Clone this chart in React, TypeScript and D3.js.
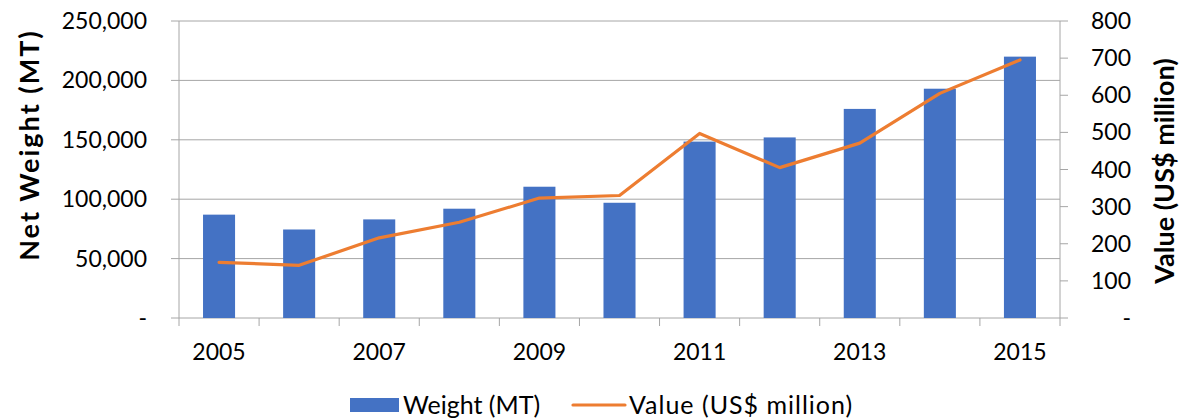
import React from "react";
import * as d3 from "d3";

const years = ["2005", "2006", "2007", "2008", "2009", "2010", "2011", "2012", "2013", "2014", "2015"];
const weightMT = [87000, 74500, 83000, 92000, 110500, 97000, 148500, 152000, 176000, 193000, 220000];
const valueUSD = [150, 142, 216, 258, 323, 330, 497, 405, 471, 605, 695];
const leftTicks = [0, 50000, 100000, 150000, 200000, 250000];
const rightTicks = [0, 100, 200, 300, 400, 500, 600, 700, 800];

const W = 1180;
const H = 420;
const margin = { top: 21, right: 120, bottom: 102, left: 179 };
const font = "Lato, 'Open Sans', sans-serif";

export default function App() {
  const innerW = W - margin.left - margin.right;
  const innerH = H - margin.top - margin.bottom;

  const x = d3.scaleBand().domain(years).range([0, innerW]).paddingInner(0.6).paddingOuter(0.3);
  const band = d3.scaleBand().domain(years).range([0, innerW]);
  const yL = d3.scaleLinear().domain([0, 250000]).range([innerH, 0]);
  const yR = d3.scaleLinear().domain([0, 800]).range([innerH, 0]);

  const line = d3
    .line<number>()
    .x((_, i) => (band(years[i]) || 0) + band.bandwidth() / 2)
    .y((d) => yR(d));

  const fmt = (v: number) => (v === 0 ? "-" : d3.format(",")(v));
  const grid = "#a6a6a6";

  return (
    <svg width={W} height={H} style={{ display: "block", position: "absolute", left: 0, top: 0 }} fontFamily={font}>
      <rect width={W} height={H} fill="#fff" />
      <g transform={`translate(${margin.left},${margin.top})`}>
        {leftTicks.map((t) => (
          <g key={t}>
            <line x1={-8} x2={innerW} y1={yL(t)} y2={yL(t)} stroke={grid} strokeWidth={1} />
            <text x={-32} y={yL(t)} dy="0.35em" textAnchor="end" fontSize={23} fill="#000">
              {fmt(t)}
            </text>
          </g>
        ))}
        {rightTicks.map((t) => (
          <g key={t}>
            <line x1={innerW} x2={innerW + 8} y1={yR(t)} y2={yR(t)} stroke={grid} strokeWidth={1} />
            <text x={innerW + 71} y={yR(t)} dy="0.35em" textAnchor="end" fontSize={23} fill="#000">
              {fmt(t)}
            </text>
          </g>
        ))}
        <line x1={0} x2={0} y1={0} y2={innerH} stroke={grid} />
        <line x1={innerW} x2={innerW} y1={0} y2={innerH} stroke={grid} />
        {years.map((y) => (
          <line key={y} x1={band(y) || 0} x2={band(y) || 0} y1={innerH} y2={innerH + 8} stroke={grid} />
        ))}
        <line x1={innerW} x2={innerW} y1={innerH} y2={innerH + 8} stroke={grid} />
        {years.map((y, i) => (
          <rect
            key={y}
            x={x(y)}
            y={yL(weightMT[i])}
            width={x.bandwidth()}
            height={innerH - yL(weightMT[i])}
            fill="#4472C4"
          />
        ))}
        <path d={line(valueUSD) || ""} fill="none" stroke="#ED7D31" strokeWidth={3.2} strokeLinejoin="round" strokeLinecap="round" />
        {years.map((y, i) =>
          i % 2 === 0 ? (
            <text
              key={y}
              x={(band(y) || 0) + band.bandwidth() / 2}
              y={innerH + 34}
              dy="0.35em"
              textAnchor="middle"
              fontSize={23}
              fill="#000"
            >
              {y}
            </text>
          ) : null
        )}
      </g>
      <text
        transform={`translate(30,145) rotate(-90)`}
        textAnchor="middle"
        dy="0.35em"
        fontSize={27}
        letterSpacing={2}
        fontWeight="bold"
        fill="#000"
      >
        Net Weight (MT)
      </text>
      <text
        transform={`translate(1165,171) rotate(-90)`}
        textAnchor="middle"
        dy="0.35em"
        fontSize={27}
        fontWeight="bold"
        fill="#000"
      >
        Value (US$ million)
      </text>
      <g transform="translate(0,405)">
        <rect x={350} y={-7} width={49} height={14} fill="#4472C4" />
        <text x={403} y={0} dy="0.35em" fontSize={25} fill="#000">
          Weight (MT)
        </text>
        <line x1={573} x2={625} y1={0} y2={0} stroke="#ED7D31" strokeWidth={3.2} strokeLinecap="round" />
        <text x={629} y={0} dy="0.35em" fontSize={25} letterSpacing={1} fill="#000">
          Value (US$ million)
        </text>
      </g>
    </svg>
  );
}
